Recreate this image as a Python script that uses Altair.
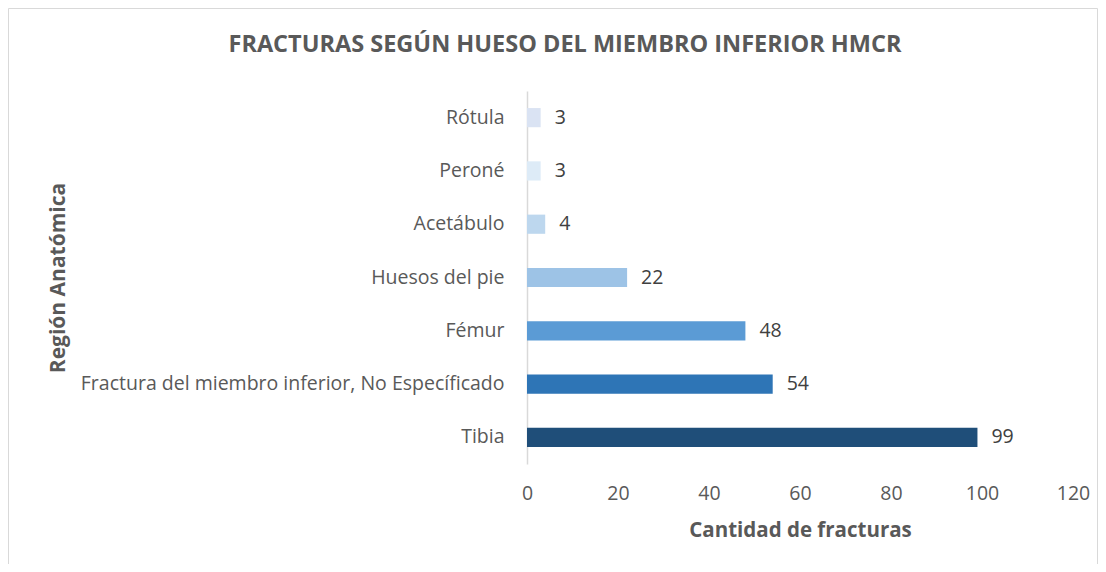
import altair as alt
import pandas as pd

categories = [
    "Rótula",
    "Peroné",
    "Acetábulo",
    "Huesos del pie",
    "Fémur",
    "Fractura del miembro inferior, No Específicado",
    "Tibia",
]
values = [3, 3, 4, 22, 48, 54, 99]
x_ticks = [0, 20, 40, 60, 80, 100, 120]
bar_colors = ["#dae3f3", "#ddebf7", "#bdd7ee", "#9dc3e6", "#5b9bd5", "#2e75b6", "#1f4e79"]
chart_title = "FRACTURAS SEGÚN HUESO DEL MIEMBRO INFERIOR HMCR"

FONT = "Open Sans"
GRAY = "#595959"

df = pd.DataFrame({"region": categories, "count": values})

base = alt.Chart(df).encode(
    y=alt.Y(
        "region:N",
        sort=categories,
        title="Región Anatómica",
        scale=alt.Scale(paddingInner=0.64, paddingOuter=0.32),
        axis=alt.Axis(
            domainColor="#d9d9d9",
            domainWidth=1.5,
            ticks=False,
            labelPadding=23,
            labelFontSize=19.5,
            labelColor=GRAY,
            labelFont=FONT,
            labelLimit=600,
            titleFontSize=21,
            titleFont=FONT,
            titleColor=GRAY,
            titleFontWeight="bold",
            titleX=-459,
        ),
    ),
    x=alt.X(
        "count:Q",
        title="Cantidad de fracturas",
        scale=alt.Scale(domain=[0, 120]),
        axis=alt.Axis(
            values=x_ticks,
            grid=False,
            domain=False,
            ticks=False,
            labelFlush=False,
            labelPadding=20,
            labelFontSize=19.5,
            labelColor=GRAY,
            labelFont=FONT,
            titleFontSize=20.5,
            titleFont=FONT,
            titleColor=GRAY,
            titleFontWeight="bold",
            titlePadding=18,
        ),
    ),
)

bars = base.mark_bar().encode(
    color=alt.Color(
        "region:N",
        scale=alt.Scale(domain=categories, range=bar_colors),
        legend=None,
    )
)

labels = base.mark_text(
    align="left", baseline="middle", dx=14, fontSize=19.5, font=FONT, color="#404040"
).encode(text="count:Q")

single = alt.Data(values=[{"k": 1}])

# decorative chart-area border (Excel style)
frame = (
    alt.Chart(single)
    .mark_rect(filled=False, stroke="#d9d9d9", strokeWidth=1, clip=False)
    .encode(
        x=alt.value(-518.5),
        x2=alt.value(570.5),
        y=alt.value(-82.5),
        y2=alt.value(600),
    )
)

title_text = (
    alt.Chart(single)
    .mark_text(
        align="center",
        baseline="middle",
        fontSize=23.5,
        font=FONT,
        fontWeight="bold",
        color=GRAY,
        clip=False,
    )
    .encode(text=alt.value(chart_title), x=alt.value(38), y=alt.value(-46))
)

chart = (
    (frame + title_text + bars + labels)
    .properties(
        width=546,
        height=373,
        autosize="none",
        background="white",
        padding={"left": 519, "top": 83, "right": 25, "bottom": 100},
    )
    .configure_view(stroke="transparent", strokeWidth=0)
)

chart.save("out.html", embed_options={"renderer": "svg", "actions": False})
